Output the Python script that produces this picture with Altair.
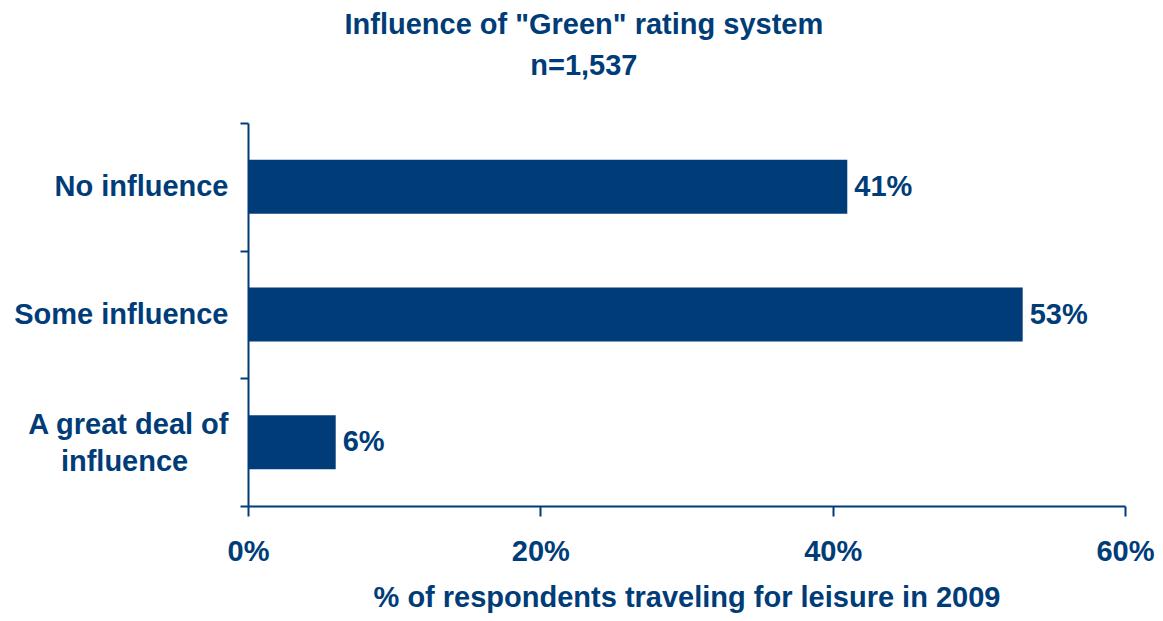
import altair as alt
import pandas as pd

categories = ["No influence", "Some influence", "A great deal of influence"]
values = [41, 53, 6]
x_ticks = [0, 20, 40, 60]

NAVY = "#003c78"
FONT = "Liberation Sans"

df = pd.DataFrame({"category": categories, "value": values})

TWO_LINE = "A great deal of influence"

y_enc = alt.Y(
    "category:N",
    sort=categories,
    scale=alt.Scale(paddingInner=0, paddingOuter=0),
    axis=alt.Axis(
        title=None,
        tickBand="extent",
        tickSize=8,
        tickWidth=2,
        tickColor=NAVY,
        domainColor=NAVY,
        domainWidth=2,
        labelPadding=12,
        labelFontSize=29,
        labelFontWeight="bold",
        labelColor=NAVY,
        labelFont=FONT,
        labelLimit=0,
        labelLineHeight=37,
        labelOffset={"condition": {"test": f"datum.value == '{TWO_LINE}'", "value": -18}, "value": 0},
        labelExpr=f"datum.value == '{TWO_LINE}' ? ['A great deal of', 'influence\u00a0\u00a0\u00a0\u00a0\u00a0\u200b'] : datum.label",
    ),
)

x_enc = alt.X(
    "value:Q",
    scale=alt.Scale(domain=[0, 60], nice=False),
    axis=alt.Axis(
        title="% of respondents traveling for leisure in 2009",
        titleFontSize=29,
        titleFontWeight="bold",
        titleColor=NAVY,
        titleFont=FONT,
        titlePadding=17,
        values=x_ticks,
        labelExpr="datum.value + '%'",
        tickSize=10,
        tickWidth=2,
        tickColor=NAVY,
        domainColor=NAVY,
        domainWidth=2,
        labelPadding=21,
        labelFontSize=29,
        labelFontWeight="bold",
        labelColor=NAVY,
        labelFont=FONT,
        labelFlush=False,
        grid=False,
    ),
)

base = alt.Chart(df).encode(y=y_enc, x=x_enc)

bars = base.mark_bar(color=NAVY, size=54)
labels = base.mark_text(
    align="left", baseline="middle", dx=7, fontSize=29, fontWeight="bold",
    color=NAVY, font=FONT
).transform_calculate(lbl="datum.value + '%'").encode(text="lbl:N")

chart = (
    alt.layer(bars, labels)
    .properties(
        width=877,
        height=383,
        autosize=alt.AutoSizeParams(type="none"),
        padding={"left": 240, "top": 115, "right": 30, "bottom": 107},
        title=alt.TitleParams(
            text=['Influence of "Green" rating system', "n=1,537"],
            fontSize=29,
            fontWeight="bold",
            color=NAVY,
            font=FONT,
            lineHeight=41,
            offset=28,
            anchor="middle",
            frame="bounds",
        ),
    )
    .configure_view(stroke=None)
)

chart.save("out.html", embed_options={"renderer": "svg", "actions": False})
